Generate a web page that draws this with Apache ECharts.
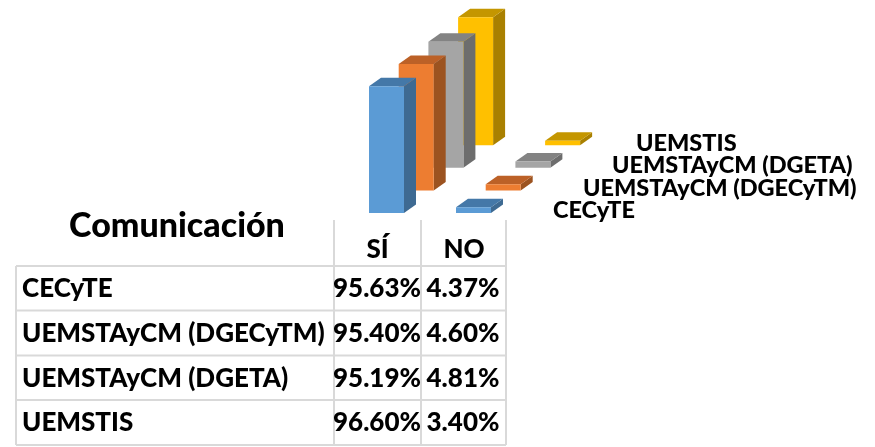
<!DOCTYPE html>
<html><head><meta charset="utf-8">
<style>html,body{margin:0;padding:0;background:#fff}#c{width:875px;height:447px}</style>
<script src="https://cdn.jsdelivr.net/npm/echarts@6/dist/echarts.min.js"></script>
</head><body><div id="c"></div>
<script>
const title = 'Comunicación';
const categories = ['SÍ', 'NO'];
const schools = ['CECyTE', 'UEMSTAyCM (DGECyTM)', 'UEMSTAyCM (DGETA)', 'UEMSTIS'];
const siValues = [95.63, 95.40, 95.19, 96.60];
const noValues = [4.37, 4.60, 4.81, 3.40];
const frontColors = ['#5B9BD5', '#ED7D31', '#A5A5A5', '#FFC000'];
const sideColors = ['#3E6A92', '#9C5320', '#6D6D6D', '#A98000'];
const topColors = ['#4478A8', '#BC6127', '#838383', '#C49600'];

const family = 'Lato, "Noto Sans", sans-serif';
const font = '900 26px ' + family;
const depthX = 12, depthY = -8.5, stepX = 29.7, stepY = -22.6, barW = 35;

function barSeries(i) {
  return {
    type: 'custom', name: schools[i], z: 10 - i, silent: true, clip: false,
    data: categories.map((c, k) => [k, k === 0 ? siValues[i] : noValues[i]]),
    renderItem(params, api) {
      const top = api.coord([api.value(0), api.value(1)]);
      const base = api.coord([api.value(0), 0]);
      const x = top[0] - barW / 2 + i * stepX, yT = top[1] + i * stepY, yB = base[1] + i * stepY;
      const x2 = x + barW;
      const poly = (pts, fill) => ({ type: 'polygon', shape: { points: pts }, style: { fill } });
      return { type: 'group', children: [
        poly([[x2, yT], [x2 + depthX, yT + depthY], [x2 + depthX, yB + depthY], [x2, yB]], sideColors[i]),
        poly([[x, yT], [x + depthX, yT + depthY], [x2 + depthX, yT + depthY], [x2, yT]], topColors[i]),
        poly([[x, yT], [x2, yT], [x2, yB], [x, yB]], frontColors[i])
      ]};
    }
  };
}

const lineColor = '#D9D9D9';
const colX = [16, 334, 421, 506], rowY = [266, 310.5, 355.5, 400, 445];
const gfx = [];
function line(x1, y1, x2, y2) {
  gfx.push({ type: 'line', shape: { x1, y1, x2, y2 }, style: { stroke: lineColor, lineWidth: 2 } });
}
function txt(s, x, y, align, f) {
  gfx.push({ type: 'text', x, y, z: 5,
    style: { text: s, font: f || font, fill: '#000', textAlign: align || 'left', textVerticalAlign: 'middle' } });
}
rowY.forEach(y => line(colX[0], y, colX[3], y));
line(colX[0], rowY[0], colX[0], rowY[4]);
colX.slice(1).forEach(x => line(x, 220, x, rowY[4]));

txt(title, 177, 226, 'center', '900 34px ' + family);
txt(categories[0], 377.5, 250, 'center');
txt(categories[1], 464, 250, 'center');
schools.forEach((s, i) => {
  const y = (rowY[i] + rowY[i + 1]) / 2 + 0.5;
  txt(s, 22, y, 'left');
  txt(siValues[i].toFixed(2) + '%', 377, y, 'center');
  txt(noValues[i].toFixed(2) + '%', 463, y, 'center');
});
const depthLabelX = [553, 583, 612, 636];
const depthLabelY = [210, 188, 165, 143];
schools.forEach((s, i) => txt(s, depthLabelX[i], depthLabelY[i], 'left', '900 23.5px ' + family));

const chart = echarts.init(document.getElementById('c'), null, { renderer: 'canvas' });
chart.setOption({
  animation: false,
  backgroundColor: '#fff',
  grid: { left: 343, width: 174, top: 80.5, height: 132.5 },
  xAxis: { type: 'category', data: categories, show: false },
  yAxis: { type: 'value', min: 0, max: 100, show: false },
  tooltip: { show: false },
  graphic: { elements: gfx },
  series: schools.map((s, i) => barSeries(i))
});
</script></body></html>
